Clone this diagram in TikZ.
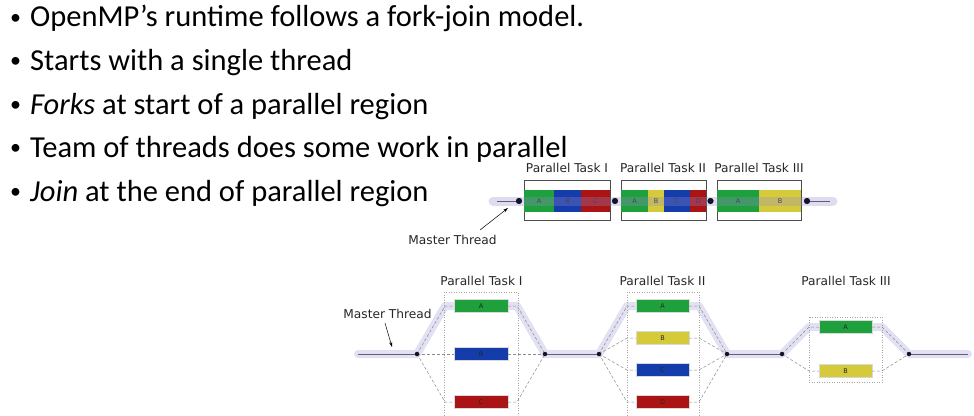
\documentclass[tikz,border=0pt]{standalone}
\usepackage{fontspec}
\setmainfont{Carlito}
\newfontfamily\dv{DejaVu Sans}
\usetikzlibrary{arrows.meta}
\definecolor{tgreen}{RGB}{30,160,60}
\definecolor{tblue}{RGB}{20,60,170}
\definecolor{tred}{RGB}{170,20,20}
\definecolor{tyellow}{RGB}{212,202,58}
\definecolor{bandc}{RGB}{226,225,243}
\definecolor{bandt}{RGB}{150,140,205}
\definecolor{thr}{RGB}{95,95,125}
\definecolor{dotc}{RGB}{20,20,40}
\tikzset{
  bullet/.style={anchor=base west,inner sep=0pt,font=\fontsize{30.5}{32}\selectfont},
  label/.style={inner sep=0pt,font=\dv\fontsize{12.2}{14}\selectfont,text=black!85},
  cell/.style={draw=none,minimum height=22pt,inner sep=0pt,font=\dv\fontsize{6.5}{7}\selectfont,text=black!85},
  outer/.style={draw=black!70,line width=0.6pt,fill=white,minimum height=40pt,inner sep=0pt},
  taskbox/.style={minimum width=54pt,minimum height=13pt,inner sep=0pt,draw=white!85!black,line width=0.3pt,font=\dv\fontsize{6.5}{7}\selectfont,text=black!85},
  jdot/.style={circle,fill=dotc,inner sep=0pt,minimum size=#1},
  jdot/.default=5pt,
  band/.style={line width=8pt,color=bandc,line cap=round,line join=round},
  thread/.style={line width=0.8pt,color=thr},
  worker/.style={dash pattern=on 3pt off 2pt,line width=0.5pt,color=black!45},
  region/.style={dotted,line width=0.5pt,color=black!35},
  pointer/.style={-{Stealth[length=5pt,width=3pt]},line width=0.5pt,color=black}
}
\begin{document}
\begin{tikzpicture}[x=1pt,y=-1pt]
\useasboundingbox (0,0) rectangle (974,415);

% bullet list
\foreach \yy/\txt in {27/{OpenMP’s runtime follows a fork-join model.},
                      70.5/{Starts with a single thread},
                      114/{\textit{Forks} at start of a parallel region},
                      157.5/{Team of threads does some work in parallel},
                      201/{\textit{Join} at the end of parallel region}}{
  \node[bullet,font=\fontsize{22}{24}\selectfont] at (10,\yy-3) {•};
  \node[bullet] at (30,\yy) {\txt};
}

% ---- compact fork-join strip ----
\node[outer,minimum width=86pt] (b1) at (567,200) {};
\node[outer,minimum width=85pt] (b2) at (663.5,200) {};
\node[outer,minimum width=84pt] (b3) at (759,200) {};

\node[cell,fill=tgreen,minimum width=30pt] (b1a) at (539,201) {A};
\node[cell,fill=tblue,minimum width=27pt] (b1b) at (567.5,201) {B};
\node[cell,fill=tred,minimum width=29pt] (b1c) at (595.5,201) {C};

\node[cell,fill=tgreen,minimum width=27pt] (b2a) at (634.5,201) {A};
\node[cell,fill=tyellow,minimum width=16pt] (b2b) at (656,201) {B};
\node[cell,fill=tblue,minimum width=26pt] (b2c) at (677,201) {C};
\node[cell,fill=tred,minimum width=16pt] (b2d) at (698,201) {D};

\node[cell,fill=tgreen,minimum width=42pt] (b3a) at (738,201) {A};
\node[cell,fill=tyellow,minimum width=42pt] (b3b) at (780,201) {B};

\coordinate (s0) at (493,201);
\coordinate (s1) at (833,201);
\coordinate (l0) at (497,201);
\coordinate (l1) at (830,201);
\node[jdot=6pt] (d0) at (519,201) {};
\node[jdot=6pt] (d1) at (615,201) {};
\node[jdot=6pt] (d2) at (710.5,201) {};
\node[jdot=6pt] (d3) at (807,201) {};

\draw[line width=9pt,color=bandt,opacity=0.3,line cap=round] (s0) -- (s1);
\draw[thread] (l0) -- (d0);
\draw[thread] (d3) -- (l1);
\node[jdot=6pt] at (d0) {};
\node[jdot=6pt] at (d1) {};
\node[jdot=6pt] at (d2) {};
\node[jdot=6pt] at (d3) {};

\node[label] (t1) at (567,168) {Parallel Task I};
\node[label] (t2) at (663,168) {Parallel Task II};
\node[label] (t3) at (759,168) {Parallel Task III};

\node[label] (m1) at (452.5,240) {Master Thread};
\coordinate (m1p) at (508,208);
\draw[pointer] (480,230) -- (m1p);

% ---- expanded fork-join diagram ----
\coordinate (st) at (358,354);
\coordinate (en) at (968,354);
\coordinate (u1a) at (445,306); \coordinate (u1b) at (517,306);
\coordinate (u2a) at (627,306); \coordinate (u2b) at (699,306);
\coordinate (u3a) at (809,327); \coordinate (u3b) at (882,327);
\coordinate (f1) at (417,354); \coordinate (j1) at (545,354);
\coordinate (f2) at (599,354); \coordinate (j2) at (727,354);
\coordinate (f3) at (782,354); \coordinate (j3) at (909,354);

\draw[band] (st) -- (f1) -- (u1a) -- (u1b) -- (j1) -- (f2) -- (u2a) -- (u2b) -- (j2)
  -- (f3) -- (u3a) -- (u3b) -- (j3) -- (en);

\draw[thread] (st) -- (f1);
\draw[thread] (j1) -- (f2);
\draw[thread] (j2) -- (f3);
\draw[thread] (j3) -- (en);

% parallel regions
\draw[region] (444,415) |- (518,292) -- (518,415);
\draw[region] (627,415) |- (699,292) -- (699,415);
\draw[region] (809,317) rectangle (882,382);

% task I
\node[taskbox,fill=tgreen] (p1a) at (481,306) {A};
\node[taskbox,fill=tblue] (p1b) at (481,354) {B};
\node[taskbox,fill=tred] (p1c) at (481,402) {C};
\draw[worker] (f1) -- (u1a) -- (p1a.west);
\draw[worker] (p1a.east) -- (u1b) -- (j1);
\draw[worker] (f1) -- (p1b.west);
\draw[worker] (p1b.east) -- (j1);
\draw[worker] (f1) -- (445,402) -- (p1c.west);
\draw[worker] (p1c.east) -- (517,402) -- (j1);

% task II
\node[taskbox,fill=tgreen,minimum width=53pt] (p2a) at (662.5,306) {A};
\node[taskbox,fill=tyellow,minimum width=53pt] (p2b) at (662.5,338) {B};
\node[taskbox,fill=tblue,minimum width=53pt] (p2c) at (662.5,370) {C};
\node[taskbox,fill=tred,minimum width=53pt] (p2d) at (662.5,402) {D};
\foreach \n/\yy in {a/306,b/338,c/370,d/402}{
  \draw[worker] (f2) -- (627,\yy) -- (p2\n.west);
  \draw[worker] (p2\n.east) -- (699,\yy) -- (j2);
}

% task III
\node[taskbox,fill=tgreen,minimum width=53pt] (p3a) at (845.5,327) {A};
\node[taskbox,fill=tyellow,minimum width=53pt] (p3b) at (845.5,371) {B};
\foreach \n/\yy in {a/327,b/371}{
  \draw[worker] (f3) -- (809,\yy) -- (p3\n.west);
  \draw[worker] (p3\n.east) -- (882,\yy) -- (j3);
}

\foreach \c in {f1,j1,f2,j2,f3,j3}{
  \node[jdot=4.5pt] at (\c) {};
}

\node[label] (q1) at (481.5,281) {Parallel Task I};
\node[label] (q2) at (662.5,281) {Parallel Task II};
\node[label] (q3) at (846,281) {Parallel Task III};

\node[label] (m2) at (387.5,314) {Master Thread};
\coordinate (m2p) at (392,347);
\draw[pointer] (385,323) -- (m2p);
\end{tikzpicture}
\end{document}
